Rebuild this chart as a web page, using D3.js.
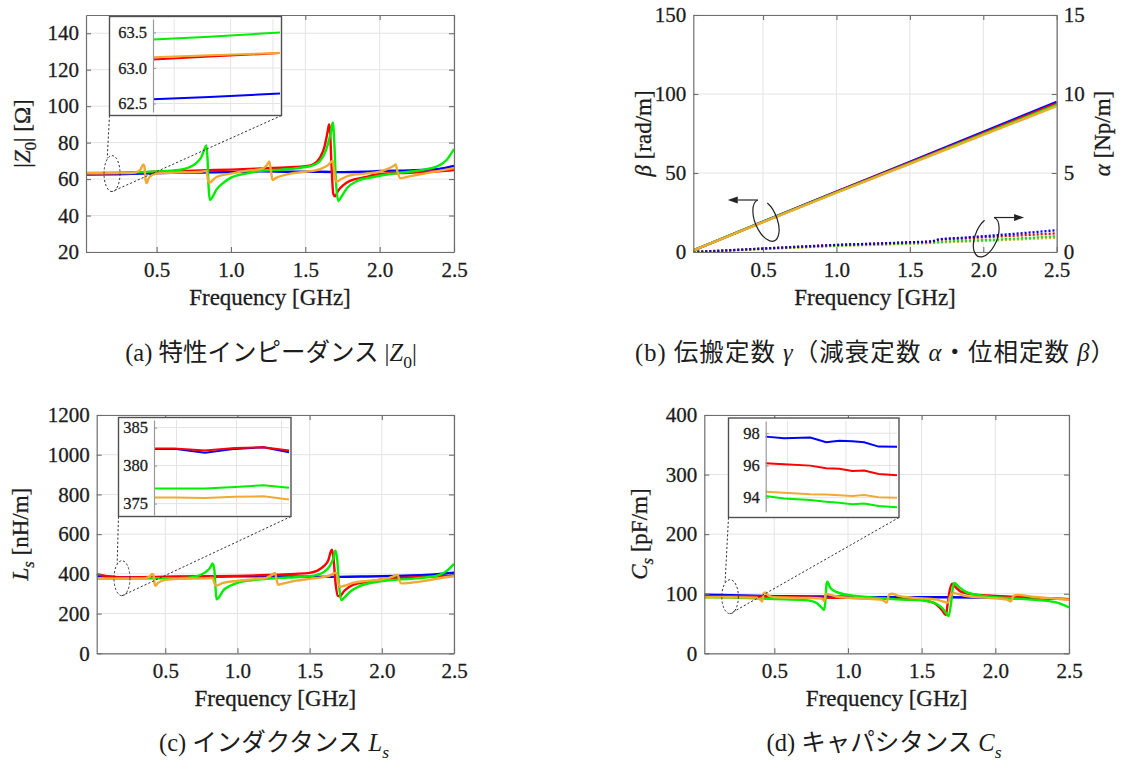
<!DOCTYPE html>
<html>
<head>
<meta charset="utf-8">
<script src="https://cdn.jsdelivr.net/npm/d3@7"></script>
<style>
  body { margin: 0; background: #fff; }
  svg text { font-family: "Liberation Serif", serif; fill: #1c1c1c; }
</style>
</head>
<body>
<svg id="fig" width="1128" height="769"></svg>
<script>
// ---------------- data ----------------
const freqDomain = [0.025, 2.5];
const freqTicks = [0.5, 1.0, 1.5, 2.0, 2.5];

// (a) |Z0| [Ohm]
const z0Ticks = [20, 40, 60, 80, 100, 120, 140];
const z0Blue = [[0.025,62.5],[0.2,62.6],[0.4,63.0],[0.6,63.4],[0.8,63.6],[1.0,63.8],[1.2,64.2],[1.4,64.0],[1.6,64.0],[1.75,63.8],[1.9,64.0],[2.0,64.5],[2.2,64.8],[2.4,65.6],[2.5,67.2]];
const z0Red = [[0.025,63.1],[0.2,63.2],[0.5,64.0],[0.8,64.8],[1.0,65.2],[1.2,65.8],[1.4,66.5],[1.5,67.0],[1.55,68],[1.6,72],[1.63,78],[1.65,86],[1.66,90],[1.665,88],[1.675,70],[1.688,52],[1.7,50.5],[1.72,53.5],[1.76,57],[1.8,59],[1.9,61],[2.0,62.8],[2.2,63.5],[2.4,64.3],[2.5,65.0]];
const z0Green = [[0.025,63.4],[0.2,63.5],[0.5,64.2],[0.65,65],[0.72,66.5],[0.77,69],[0.8,72],[0.825,77],[0.835,78.5],[0.843,70],[0.85,55],[0.858,48.5],[0.875,50],[0.9,54],[0.95,58],[1.0,60.8],[1.1,63],[1.2,64.5],[1.3,65],[1.4,65.5],[1.5,66.6],[1.55,67.5],[1.6,70],[1.64,76],[1.67,85],[1.685,91],[1.695,80],[1.705,60],[1.722,48],[1.74,50],[1.78,55],[1.85,59],[1.95,61],[2.05,62.5],[2.2,64],[2.3,65.2],[2.4,67.5],[2.45,70.5],[2.5,76.5]];
const z0Orange = [[0.025,63.2],[0.2,63.25],[0.35,63.5],[0.39,65],[0.41,68],[0.418,67],[0.425,60],[0.432,57.8],[0.45,61],[0.5,63],[0.6,63.5],[0.8,64],[0.835,64.5],[0.845,60],[0.853,58],[0.9,61],[1.0,63],[1.1,64.5],[1.2,65.5],[1.24,67.5],[1.258,69.7],[1.268,65],[1.28,59.5],[1.3,60.5],[1.4,63],[1.5,64],[1.6,65.5],[1.65,67.5],[1.675,69.5],[1.685,70],[1.697,62],[1.71,58.6],[1.74,60],[1.8,62],[1.9,63],[2.0,64],[2.05,65.5],[2.09,67],[2.108,68],[2.12,64],[2.14,60.5],[2.2,61.5],[2.3,63],[2.4,64.5],[2.5,66]];
// (a) inset
const z0InsetTicks = [62.5, 63.0, 63.5];
const z0InsetBlue = [[0.16,62.56],[0.2,62.59],[0.25,62.64]];
const z0InsetRed = [[0.16,63.12],[0.2,63.16],[0.25,63.21]];
const z0InsetGreen = [[0.16,63.40],[0.2,63.44],[0.25,63.50]];
const z0InsetOrange = [[0.16,63.15],[0.2,63.18],[0.25,63.21]];

// (b) beta [rad/m] and alpha [Np/m]
const betaTicks = [0, 50, 100, 150];
const alphaTicks = [0, 5, 10, 15];
const betaBlue = [[0.025,1.0],[0.5,19.3],[1.0,38.3],[1.5,57.0],[2.0,76.0],[2.5,95.0]];
const betaRed = [[0.025,1.0],[0.5,19.1],[1.0,38.0],[1.5,56.5],[2.0,75.3],[2.5,94.0]];
const betaGreen = [[0.025,1.0],[0.5,19.0],[1.0,37.7],[1.5,56.1],[2.0,74.6],[2.5,93.1]];
const betaOrange = [[0.025,1.0],[0.5,18.9],[1.0,37.5],[1.5,55.8],[2.0,74.1],[2.5,92.3]];
const alphaBlue = [[0.025,0],[0.25,0.1],[0.5,0.22],[0.75,0.34],[1.0,0.45],[1.25,0.53],[1.5,0.62],[1.65,0.68],[1.7,0.8],[1.85,0.9],[2.0,1.0],[2.25,1.18],[2.5,1.38]];
const alphaRed = [[0.025,0],[0.25,0.1],[0.5,0.22],[0.75,0.33],[1.0,0.44],[1.25,0.52],[1.5,0.6],[1.65,0.66],[1.7,0.78],[1.85,0.85],[2.0,0.93],[2.25,1.05],[2.5,1.18]];
const alphaGreen = [[0.025,0],[0.25,0.09],[0.5,0.2],[0.75,0.3],[1.0,0.4],[1.25,0.47],[1.5,0.55],[1.65,0.6],[1.7,0.64],[1.85,0.7],[2.0,0.75],[2.25,0.86],[2.5,1.0]];
const alphaOrange = [[0.025,0],[0.25,0.09],[0.5,0.19],[0.75,0.28],[1.0,0.38],[1.25,0.45],[1.5,0.52],[1.65,0.57],[1.7,0.6],[1.85,0.65],[2.0,0.7],[2.25,0.8],[2.5,0.9]];

// (c) Ls [nH/m]
const lsTicks = [0, 200, 400, 600, 800, 1000, 1200];
const lsBlue = [[0.025,392],[0.1,386],[0.2,382],[0.5,385],[0.8,386],[1.0,388],[1.2,388],[1.5,386],[1.7,385],[1.9,387],[2.1,390],[2.3,394],[2.5,406]];
const lsRed = [[0.025,398],[0.1,388],[0.2,382.2],[0.5,385],[0.8,388],[1.0,390],[1.2,394],[1.4,400],[1.5,405],[1.55,415],[1.6,440],[1.63,470],[1.648,515],[1.655,522],[1.665,480],[1.68,350],[1.695,290],[1.71,287],[1.74,315],[1.8,345],[1.9,360],[2.0,372],[2.2,382],[2.4,388],[2.5,390]];
const lsGreen = [[0.025,377],[0.2,377],[0.5,378],[0.65,380],[0.72,388],[0.77,405],[0.81,430],[0.828,452],[0.84,420],[0.848,330],[0.855,272],[0.875,285],[0.9,315],[0.95,340],[1.0,355],[1.1,368],[1.2,375],[1.3,380],[1.4,383],[1.5,388],[1.55,395],[1.6,410],[1.64,440],[1.665,480],[1.678,517],[1.69,480],[1.703,350],[1.718,268],[1.74,280],[1.78,310],[1.85,340],[1.95,358],[2.05,368],[2.2,375],[2.3,382],[2.4,395],[2.45,415],[2.5,450]];
const lsOrange = [[0.025,376],[0.2,375.8],[0.35,377],[0.39,385],[0.41,400],[0.418,395],[0.425,355],[0.432,340],[0.45,355],[0.5,370],[0.6,375],[0.8,378],[0.828,380],[0.84,355],[0.85,340],[0.9,355],[1.0,365],[1.1,372],[1.2,380],[1.24,395],[1.26,405],[1.27,375],[1.282,345],[1.3,348],[1.4,365],[1.5,375],[1.6,385],[1.65,395],[1.675,405],[1.685,405],[1.697,360],[1.708,335],[1.74,340],[1.8,355],[1.9,365],[2.0,372],[2.05,380],[2.09,390],[2.11,395],[2.12,370],[2.135,352],[2.2,355],[2.3,365],[2.4,378],[2.5,388]];
// (c) inset
const lsInsetTicks = [375, 380, 385];
const lsInsetBlue = [[0.16,382.2],[0.1735,382.2],[0.194,381.7],[0.214,382.2],[0.233,382.4],[0.25,381.75]];
const lsInsetRed = [[0.16,382.25],[0.1735,382.25],[0.194,382.0],[0.214,382.3],[0.233,382.4],[0.25,382.0]];
const lsInsetGreen = [[0.16,377.0],[0.1735,377.0],[0.194,377.0],[0.214,377.2],[0.233,377.4],[0.25,377.1]];
const lsInsetOrange = [[0.16,375.8],[0.1735,375.8],[0.194,375.75],[0.214,375.9],[0.233,375.96],[0.25,375.55]];

// (d) Cs [pF/m]
const csTicks = [0, 100, 200, 300, 400];
const csBlue = [[0.025,98.5],[0.2,97.5],[0.5,96],[0.8,95.5],[1.0,95],[1.2,94],[1.5,94],[1.7,94],[2.0,93],[2.3,92],[2.5,91]];
const csRed = [[0.025,96],[0.2,96],[0.5,95],[0.8,93.5],[1.0,93],[1.2,92],[1.4,91],[1.5,90],[1.55,87],[1.6,82],[1.64,72],[1.664,64],[1.675,80],[1.69,105],[1.708,117],[1.73,111],[1.77,103],[1.85,99],[1.95,97],[2.1,95],[2.3,93],[2.5,91]];
const csGreen = [[0.025,94.1],[0.2,93.5],[0.5,91],[0.7,89.5],[0.75,88],[0.79,84],[0.82,77],[0.838,73],[0.847,88],[0.854,115],[0.86,120],[0.88,110],[0.92,103],[1.0,98],[1.1,95],[1.2,93],[1.3,91],[1.4,90],[1.5,89],[1.55,87],[1.6,83],[1.64,76],[1.67,66],[1.683,62.5],[1.7,85],[1.713,112],[1.722,118],[1.75,112],[1.8,103],[1.9,97],[2.0,94],[2.2,91],[2.35,88],[2.42,85],[2.5,77]];
const csOrange = [[0.025,94.2],[0.2,94.2],[0.38,93.5],[0.405,90],[0.418,87],[0.427,100],[0.437,102],[0.46,97],[0.5,94],[0.7,93],[0.82,92],[0.838,88],[0.85,100],[0.87,99],[0.93,95],[1.1,92],[1.22,90],[1.25,87],[1.262,85],[1.278,98],[1.295,100],[1.35,96],[1.45,93],[1.6,90],[1.66,86],[1.678,85],[1.697,98],[1.72,101],[1.8,96],[1.95,93],[2.08,90],[2.105,87],[2.122,96],[2.15,98],[2.25,95],[2.4,92],[2.5,90]];
// (d) inset
const csInsetTicks = [94, 96, 98];
const csInsetBlue = [[0.16,97.79],[0.1726,97.69],[0.1906,97.73],[0.2014,97.44],[0.2104,97.54],[0.2194,97.5],[0.2275,97.44],[0.2374,97.17],[0.25,97.16]];
const csInsetRed = [[0.16,96.14],[0.1726,96.08],[0.1906,95.99],[0.2014,95.83],[0.2104,95.8],[0.2194,95.66],[0.2275,95.68],[0.2374,95.47],[0.25,95.39]];
const csInsetGreen = [[0.16,94.1],[0.1726,93.95],[0.1906,93.85],[0.2014,93.75],[0.2104,93.68],[0.2194,93.6],[0.2275,93.64],[0.2374,93.48],[0.25,93.4]];
const csInsetOrange = [[0.16,94.37],[0.1726,94.3],[0.1906,94.22],[0.2014,94.2],[0.2104,94.15],[0.2194,94.1],[0.2275,94.16],[0.2374,94.03],[0.25,94.0]];

// inset frequency window and its grid
const insetFreqDomain = [0.16, 0.25];
const insetFreqGrid = [0.175, 0.215, 0.245];

// ---------------- styles ----------------
const C = { blue: "#0000ff", red: "#ff0000", green: "#00ee00", orange: "#f0aa32" };
const AXIS = "#6e6e6e";
const GRID = "#e4e4e4";
const INK = "#1c1c1c";
const SERIF = "'Liberation Serif', serif";
const CJK = "'Noto Sans CJK JP', sans-serif";
const TICK_FS = 21;
const LABEL_FS = 23;
const LINE_W = 2.4;

const svg = d3.select("#fig");
svg.append("rect").attr("width", 1128).attr("height", 769).attr("fill", "#fff");
let clipId = 0;

// mixed text: italic parts, subscripts, CJK runs
function rich(textSel, parts, fs) {
  let shifted = false;
  parts.forEach(p => {
    const ts = textSel.append("tspan").text(p.t).style("font-family", p.cjk ? CJK : SERIF);
    if (p.i) ts.style("font-style", "italic");
    if (p.sub) {
      ts.style("font-size", (fs * 0.72) + "px").attr("dy", fs * 0.28);
      shifted = true;
    } else if (shifted) {
      ts.attr("dy", -fs * 0.28);
      shifted = false;
    }
  });
}

function lineGen(x, y, curve) {
  return d3.line().x(d => x(d[0])).y(d => y(d[1])).curve(curve || d3.curveMonotoneX);
}

function styleAxis(sel, fs) {
  sel.attr("font-family", null).attr("font-size", null);
  sel.selectAll(".domain").attr("stroke", AXIS).attr("stroke-width", 1.2);
  sel.selectAll(".tick line").attr("stroke", AXIS).attr("stroke-width", 1.1);
  sel.selectAll(".tick text").style("font-size", fs + "px").style("font-family", SERIF)
    .style("fill", INK).style("stroke", INK).style("stroke-width", "0.3px");
}

function panel(spec) {
  const b = spec.box;
  const x = d3.scaleLinear().domain(freqDomain).range([b.x0, b.x1]);
  const y = d3.scaleLinear().domain(spec.yDomain).range([b.y1, b.y0]);
  const g = svg.append("g");

  // grid
  g.append("g").selectAll("line").data(freqTicks).join("line")
    .attr("x1", d => x(d)).attr("x2", d => x(d)).attr("y1", b.y0).attr("y2", b.y1)
    .attr("stroke", GRID).attr("stroke-width", 1);
  g.append("g").selectAll("line").data(spec.yTicks).join("line")
    .attr("y1", d => y(d)).attr("y2", d => y(d)).attr("x1", b.x0).attr("x2", b.x1)
    .attr("stroke", GRID).attr("stroke-width", 1);

  // data lines
  const id = "clip" + (clipId++);
  g.append("clipPath").attr("id", id).append("rect")
    .attr("x", b.x0).attr("y", b.y0).attr("width", b.x1 - b.x0).attr("height", b.y1 - b.y0);
  const lines = g.append("g").attr("clip-path", `url(#${id})`);
  spec.series.forEach(s => {
    const yy = s.scale === "right" ? spec.yRight : y;
    lines.append("path").datum(s.data)
      .attr("d", lineGen(x, yy))
      .attr("fill", "none").attr("stroke", s.color)
      .attr("stroke-width", s.width || LINE_W)
      .attr("stroke-dasharray", s.dash || null)
      .attr("stroke-linejoin", "round");
  });

  // axes: ticks point inward on all four sides
  g.append("g").attr("transform", `translate(0,${b.y1})`)
    .call(d3.axisBottom(x).tickValues(freqTicks).tickFormat(d3.format(".1f")).tickSizeInner(-5).tickSizeOuter(0).tickPadding(10))
    .call(styleAxis, TICK_FS);
  g.append("g").attr("transform", `translate(0,${b.y0})`)
    .call(d3.axisTop(x).tickValues(freqTicks).tickFormat("").tickSizeInner(-5).tickSizeOuter(0))
    .call(styleAxis, TICK_FS);
  g.append("g").attr("transform", `translate(${b.x0},0)`)
    .call(d3.axisLeft(y).tickValues(spec.yTicks).tickFormat(d3.format("d")).tickSizeInner(-5).tickSizeOuter(0).tickPadding(7))
    .call(styleAxis, TICK_FS);
  const right = g.append("g").attr("transform", `translate(${b.x1},0)`);
  if (spec.yRight) {
    right.call(d3.axisRight(spec.yRight).tickValues(spec.rightTicks).tickFormat(d3.format("d")).tickSizeInner(-5).tickSizeOuter(0).tickPadding(7));
  } else {
    right.call(d3.axisRight(y).tickValues(spec.yTicks).tickFormat("").tickSizeInner(-5).tickSizeOuter(0));
  }
  right.call(styleAxis, TICK_FS);

  // x label
  g.append("text").attr("x", (b.x0 + b.x1) / 2).attr("y", b.y1 + 53)
    .attr("text-anchor", "middle").style("font-size", LABEL_FS + "px").style("font-family", SERIF)
    .style("stroke", INK).style("stroke-width", "0.3px")
    .text("Frequency [GHz]");

  // y label(s)
  const yl = g.append("text")
    .attr("transform", `translate(${spec.yLabelX},${(b.y0 + b.y1) / 2}) rotate(-90)`)
    .attr("text-anchor", "middle").style("font-size", LABEL_FS + "px")
    .style("stroke", INK).style("stroke-width", "0.3px");
  rich(yl, spec.yLabel, LABEL_FS);
  if (spec.yRightLabel) {
    const yr = g.append("text")
      .attr("transform", `translate(${spec.yRightLabelX},${(b.y0 + b.y1) / 2}) rotate(-90)`)
      .attr("text-anchor", "middle").style("font-size", LABEL_FS + "px")
      .style("stroke", INK).style("stroke-width", "0.3px");
    rich(yr, spec.yRightLabel, LABEL_FS);
  }

  return { g, x, y };
}

// zoom inset: white box, own y axis, dotted ellipse marking the zoomed region
function inset(P, spec) {
  const { g, x, y } = P;
  const ib = spec.box, pa = spec.plot;
  const ix = d3.scaleLinear().domain(insetFreqDomain).range([pa.x0, pa.x1]);
  const iy = d3.scaleLinear().domain(spec.yDomain).range([pa.y1, pa.y0]);

  const cx = x(spec.focus[0]), cy = y(spec.focus[1]);
  const rx = spec.rx, ry = spec.ry;
  g.append("ellipse").attr("cx", cx).attr("cy", cy).attr("rx", rx).attr("ry", ry)
    .attr("fill", "none").attr("stroke", "#333").attr("stroke-width", 1).attr("stroke-dasharray", "2.2,2");
  g.append("line").attr("x1", ib.x0).attr("y1", ib.y1).attr("x2", cx - 0.6 * rx).attr("y2", cy - 0.85 * ry)
    .attr("stroke", "#333").attr("stroke-width", 1).attr("stroke-dasharray", "2.2,2");
  g.append("line").attr("x1", ib.x1).attr("y1", ib.y1).attr("x2", cx).attr("y2", cy + ry)
    .attr("stroke", "#333").attr("stroke-width", 1).attr("stroke-dasharray", "2.2,2");

  const gi = g.append("g");
  gi.append("rect").attr("x", ib.x0).attr("y", ib.y0).attr("width", ib.x1 - ib.x0).attr("height", ib.y1 - ib.y0)
    .attr("fill", "#fff").attr("stroke", "#505050").attr("stroke-width", 1.4);
  gi.append("g").selectAll("line").data(insetFreqGrid).join("line")
    .attr("x1", d => ix(d)).attr("x2", d => ix(d)).attr("y1", pa.y0).attr("y2", pa.y1)
    .attr("stroke", GRID).attr("stroke-width", 1);
  gi.append("g").selectAll("line").data(spec.yTicks).join("line")
    .attr("y1", d => iy(d)).attr("y2", d => iy(d)).attr("x1", pa.x0).attr("x2", pa.x1)
    .attr("stroke", GRID).attr("stroke-width", 1);
  spec.series.forEach(s => {
    gi.append("path").datum(s.data).attr("d", lineGen(ix, iy, d3.curveLinear))
      .attr("fill", "none").attr("stroke", s.color).attr("stroke-width", 2);
  });
  const ax = gi.append("g").attr("transform", `translate(${pa.x0},0)`)
    .call(d3.axisLeft(iy).tickValues(spec.yTicks).tickFormat(d3.format(spec.fmt)).tickSizeInner(-3).tickSizeOuter(0).tickPadding(6))
    .call(styleAxis, 16.5);
  ax.select(".domain").attr("stroke", "#9a9a9a");
  ax.selectAll(".tick line").attr("stroke", "#9a9a9a");
}

// curved "this axis" indicator: open ellipse with a horizontal arrow
function axisPointer(g, cx, cy, rx, ry, rot, dir) {
  const r = rot * Math.PI / 180;
  const pt = t => {
    const a = t * Math.PI / 180;
    const lx = rx * Math.cos(a), ly = ry * Math.sin(a);
    return [cx + lx * Math.cos(r) - ly * Math.sin(r), cy + lx * Math.sin(r) + ly * Math.cos(r)];
  };
  const start = pt(-90);
  const end = dir < 0 ? pt(-45) : pt(-135);
  const sweep = dir < 0 ? 0 : 1;
  g.append("path")
    .attr("d", `M${start[0]},${start[1]} A${rx},${ry} ${rot} 1 ${sweep} ${end[0]},${end[1]}`)
    .attr("fill", "none").attr("stroke", "#222").attr("stroke-width", 1.2);
  const len = 30, head = 10;
  const tipX = start[0] + dir * len;
  g.append("line").attr("x1", start[0]).attr("y1", start[1]).attr("x2", tipX - dir * head).attr("y2", start[1])
    .attr("stroke", "#222").attr("stroke-width", 1.2);
  g.append("path")
    .attr("d", `M${tipX},${start[1]} L${tipX - dir * head},${start[1] - 3.5} L${tipX - dir * head},${start[1] + 3.5} Z`)
    .attr("fill", "#222");
}

// ---------------- (a) |Z0| ----------------
const A = panel({
  box: { x0: 86, x1: 454, y0: 15, y1: 252 },
  yDomain: [20, 150], yTicks: z0Ticks,
  series: [
    { data: z0Blue, color: C.blue }, { data: z0Red, color: C.red },
    { data: z0Green, color: C.green }, { data: z0Orange, color: C.orange }
  ],
  yLabelX: 30,
  yLabel: [{ t: "|" }, { t: "Z", i: true }, { t: "0", sub: true }, { t: "| [Ω]" }]
});
inset(A, {
  box: { x0: 109.5, x1: 281.5, y0: 16.5, y1: 115.5 },
  plot: { x0: 153, x1: 280, y0: 19, y1: 112 },
  yDomain: [62.38, 63.69], yTicks: z0InsetTicks, fmt: ".1f",
  focus: [0.2, 63], rx: 8, ry: 18,
  series: [
    { data: z0InsetBlue, color: C.blue }, { data: z0InsetRed, color: C.red },
    { data: z0InsetGreen, color: C.green }, { data: z0InsetOrange, color: C.orange }
  ]
});

// ---------------- (b) gamma ----------------
const bBox = { x0: 693.3, x1: 1056.7, y0: 15, y1: 252 };
const yAlpha = d3.scaleLinear().domain([0, 15]).range([bBox.y1, bBox.y0]);
const B = panel({
  box: bBox,
  yDomain: [0, 150], yTicks: betaTicks,
  yRight: yAlpha, rightTicks: alphaTicks,
  series: [
    { data: alphaOrange, color: C.orange, scale: "right", dash: "2,2", width: 2.3 },
    { data: alphaGreen, color: C.green, scale: "right", dash: "2,2", width: 2.3 },
    { data: alphaRed, color: C.red, scale: "right", dash: "2,2", width: 2.3 },
    { data: alphaBlue, color: C.blue, scale: "right", dash: "2,2", width: 2.3 },
    { data: betaBlue, color: C.blue }, { data: betaRed, color: C.red },
    { data: betaGreen, color: C.green }, { data: betaOrange, color: C.orange }
  ],
  yLabelX: 651,
  yLabel: [{ t: "β", i: true }, { t: " [rad/m]" }],
  yRightLabelX: 1110,
  yRightLabel: [{ t: "α", i: true }, { t: " [Np/m]" }]
});
axisPointer(B.g, B.x(0.52), B.y(20), 11, 22, -22, -1);
axisPointer(B.g, B.x(2.02), yAlpha(0.95), 11, 21, 22, 1);

// ---------------- (c) Ls ----------------
const Cp = panel({
  box: { x0: 96.7, x1: 454, y0: 415, y1: 653.3 },
  yDomain: [0, 1200], yTicks: lsTicks,
  series: [
    { data: lsBlue, color: C.blue }, { data: lsRed, color: C.red },
    { data: lsGreen, color: C.green }, { data: lsOrange, color: C.orange }
  ],
  yLabelX: 28,
  yLabel: [{ t: "L", i: true }, { t: "s", i: true, sub: true }, { t: " [nH/m]" }]
});
inset(Cp, {
  box: { x0: 118.5, x1: 291, y0: 417.5, y1: 516.5 },
  plot: { x0: 154, x1: 289, y0: 420, y1: 515 },
  yDomain: [373.5, 386], yTicks: lsInsetTicks, fmt: "d",
  focus: [0.2, 378], rx: 8, ry: 17.5,
  series: [
    { data: lsInsetBlue, color: C.blue }, { data: lsInsetRed, color: C.red },
    { data: lsInsetGreen, color: C.green }, { data: lsInsetOrange, color: C.orange }
  ]
});

// ---------------- (d) Cs ----------------
const D = panel({
  box: { x0: 704.3, x1: 1069, y0: 415, y1: 653.3 },
  yDomain: [0, 400], yTicks: csTicks,
  series: [
    { data: csBlue, color: C.blue }, { data: csRed, color: C.red },
    { data: csGreen, color: C.green }, { data: csOrange, color: C.orange }
  ],
  yLabelX: 647,
  yLabel: [{ t: "C", i: true }, { t: "s", i: true, sub: true }, { t: " [pF/m]" }]
});
inset(D, {
  box: { x0: 728.5, x1: 899, y0: 418, y1: 517.5 },
  plot: { x0: 765.7, x1: 897, y0: 421, y1: 511.7 },
  yDomain: [93.13, 98.76], yTicks: csInsetTicks, fmt: "d",
  focus: [0.2, 95], rx: 8.3, ry: 17,
  series: [
    { data: csInsetBlue, color: C.blue }, { data: csInsetRed, color: C.red },
    { data: csInsetGreen, color: C.green }, { data: csInsetOrange, color: C.orange }
  ]
});

// ---------------- captions ----------------
const CAP_FS = 24.5;
function caption(cx, by, parts, width) {
  const t = svg.append("text").attr("x", cx).attr("y", by).attr("text-anchor", "middle")
    .style("font-size", CAP_FS + "px");
  if (width) t.attr("textLength", width).attr("lengthAdjust", "spacing");
  rich(t, parts, CAP_FS);
}
caption(271, 361, [{ t: "(a) " }, { t: "特性インピーダンス", cjk: true }, { t: " |" }, { t: "Z", i: true }, { t: "0", sub: true }, { t: "|" }]);
caption(875, 361, [{ t: "(b) " }, { t: "伝搬定数", cjk: true }, { t: " " }, { t: "γ", i: true }, { t: "（減衰定数", cjk: true }, { t: " " }, { t: "α", i: true }, { t: "・位相定数", cjk: true }, { t: " " }, { t: "β", i: true }, { t: "）", cjk: true }], 480);
caption(274, 751, [{ t: "(c) " }, { t: "インダクタンス", cjk: true }, { t: " " }, { t: "L", i: true }, { t: "s", i: true, sub: true }]);
caption(884, 751, [{ t: "(d) " }, { t: "キャパシタンス", cjk: true }, { t: " " }, { t: "C", i: true }, { t: "s", i: true, sub: true }]);
</script>
</body>
</html>
